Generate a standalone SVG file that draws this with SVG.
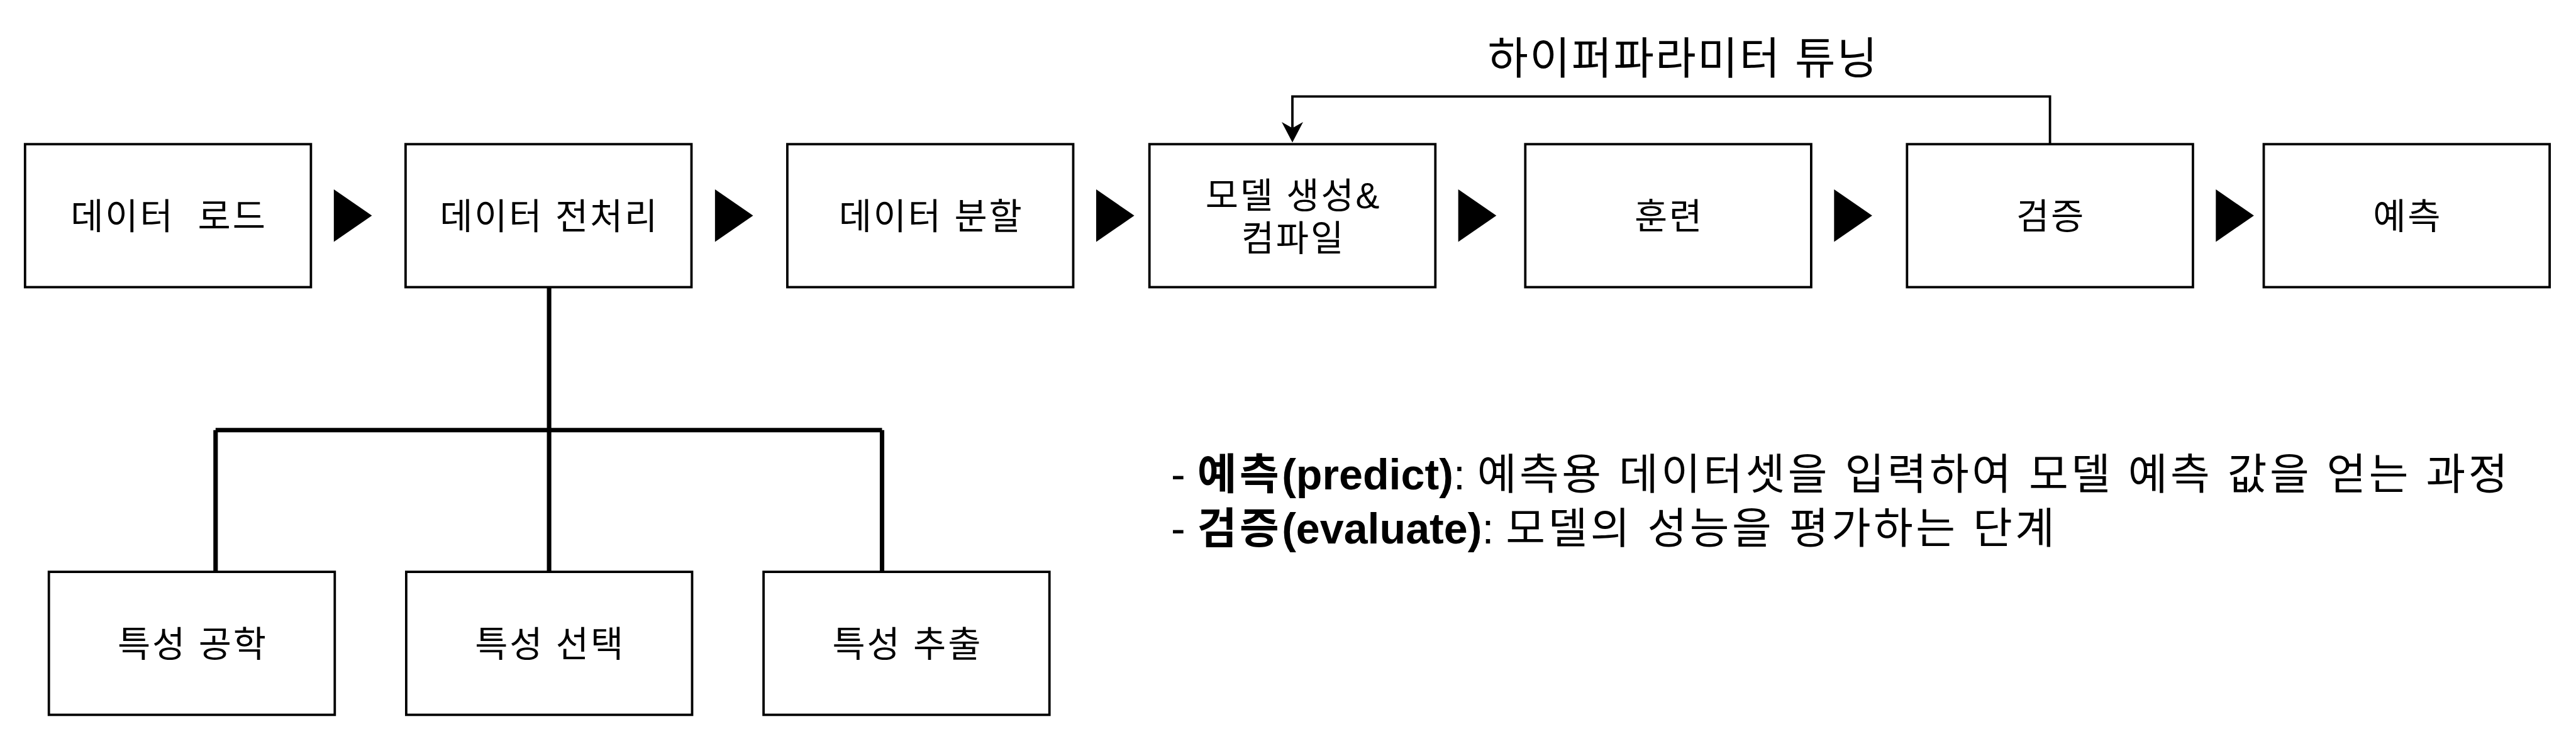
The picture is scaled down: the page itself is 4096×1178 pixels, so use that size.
<svg xmlns="http://www.w3.org/2000/svg" width="4096" height="1178" viewBox="0 0 4096 1178">
<defs>
<style>
.box{fill:#fff;stroke:#000;stroke-width:3.8}
.lbl{font-family:"Liberation Sans","Noto Sans CJK KR",sans-serif;font-size:56.8px;letter-spacing:2.8px;text-anchor:middle;fill:#000;white-space:pre}
.tree{fill:none;stroke:#000;stroke-width:7.1}
.fb{fill:none;stroke:#000;stroke-width:3.8}
.tri{fill:#000}
.note{font-family:"Liberation Sans","Noto Sans CJK KR",sans-serif;font-size:68.2px;fill:#000;white-space:pre}
.ko{letter-spacing:4.5px}
.big{font-family:"Liberation Sans","Noto Sans CJK KR",sans-serif;font-size:70px;letter-spacing:2.3px;fill:#000;text-anchor:middle}
</style>
<marker id="arr" viewBox="0 0 33 34" markerWidth="33" markerHeight="34" markerUnits="userSpaceOnUse" refX="9.5" refY="17" orient="auto">
<path d="M0,0 L32.5,17 L0,34 L9.5,17 Z" fill="#000"/>
</marker>
</defs>
<rect width="4096" height="1178" fill="#fff"/>

<g id="connectors">
<path class="tree" d="M873.1,456.5 V683.7 M342.8,683.7 H1402.5 M342.8,683.7 V909.1 M873.1,683.7 V909.1 M1402.5,683.7 V909.1"/>
<path class="fb" d="M3259.6,229.2 V153.4 H2055 V203.6" marker-end="url(#arr)"/>
<text class="big" x="2676.5" y="118.4">하이퍼파라미터 튜닝</text>
</g>

<g id="flow-arrows">
<polygon class="tri" points="530.8,301.1 591.4,342.8 530.8,384.5"/>
<polygon class="tri" points="1136.9,301.1 1197.5,342.8 1136.9,384.5"/>
<polygon class="tri" points="1743.0,301.1 1803.6,342.8 1743.0,384.5"/>
<polygon class="tri" points="2318.7,301.1 2379.3,342.8 2318.7,384.5"/>
<polygon class="tri" points="2916.3,301.1 2976.9,342.8 2916.3,384.5"/>
<polygon class="tri" points="3523.3,301.1 3583.9,342.8 3523.3,384.5"/>
</g>

<g id="n-load"><rect class="box" x="39.8" y="229.2" width="454.6" height="227.3"/><text class="lbl" x="268.5" y="364.4" xml:space="preserve">데이터  로드</text></g>
<g id="n-preprocess"><rect class="box" x="644.9" y="229.2" width="454.6" height="227.3"/><text class="lbl" x="873.6" y="364.4">데이터 전처리</text></g>
<g id="n-split"><rect class="box" x="1251.9" y="229.2" width="454.6" height="227.3"/><text class="lbl" x="1480.6" y="364.4">데이터 분할</text></g>
<g id="n-model"><rect class="box" x="1827.7" y="229.2" width="454.6" height="227.3"/><text class="lbl" x="2056.4" y="330.5">모델 생성&amp;</text><text class="lbl" x="2056.4" y="398.7">컴파일</text></g>
<g id="n-train"><rect class="box" x="2425.3" y="229.2" width="454.6" height="227.3"/><text class="lbl" x="2654" y="364.4">훈련</text></g>
<g id="n-validate"><rect class="box" x="3032.3" y="229.2" width="454.6" height="227.3"/><text class="lbl" x="3261" y="364.4">검증</text></g>
<g id="n-predict"><rect class="box" x="3599.5" y="229.2" width="454.6" height="227.3"/><text class="lbl" x="3828.2" y="364.4">예측</text></g>

<g id="n-feat-eng"><rect class="box" x="77.7" y="909.1" width="454.6" height="227.3"/><text class="lbl" x="306.4" y="1044.4">특성 공학</text></g>
<g id="n-feat-sel"><rect class="box" x="645.9" y="909.1" width="454.6" height="227.3"/><text class="lbl" x="874.6" y="1044.4">특성 선택</text></g>
<g id="n-feat-ext"><rect class="box" x="1214.1" y="909.1" width="454.6" height="227.3"/><text class="lbl" x="1442.8" y="1044.4">특성 추출</text></g>

<g id="notes">
<text class="note" x="1862" y="778.4">- <tspan font-weight="bold"><tspan class="ko">예측</tspan>(predict)</tspan>: <tspan class="ko">예측용 데이터셋을 입력하여 모델 예측 값을 얻는 과정</tspan></text>
<text class="note" x="1862" y="863.7">- <tspan font-weight="bold"><tspan class="ko">검증</tspan>(evaluate)</tspan>: <tspan class="ko">모델의 성능을 평가하는 단계</tspan></text>
</g>
</svg>
